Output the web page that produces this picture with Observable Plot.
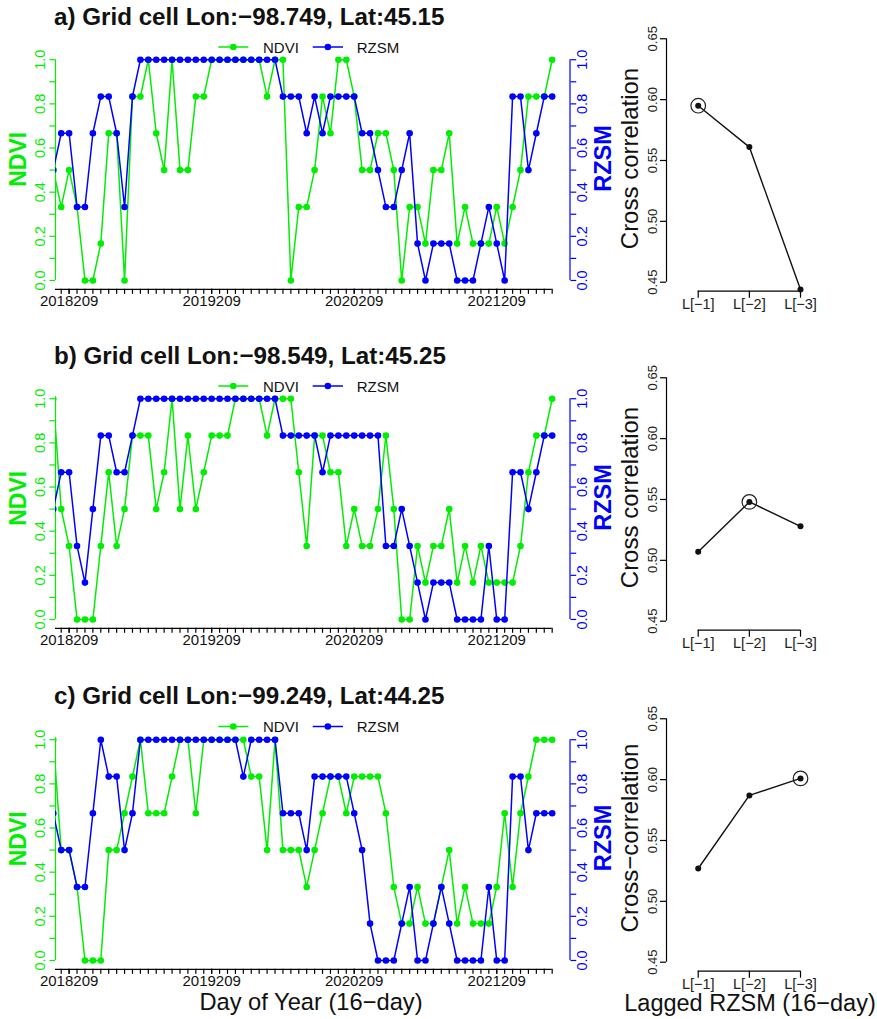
<!DOCTYPE html>
<html><head><meta charset="utf-8">
<script src="https://cdn.jsdelivr.net/npm/d3@7"></script>
<script src="https://cdn.jsdelivr.net/npm/@observablehq/plot@0.6"></script>
<style>
html,body{margin:0;padding:0;background:#fff;}
#wrap{position:relative;width:877px;height:1019px;overflow:hidden;font-family:"Liberation Sans",Arial,Helvetica,sans-serif;}
#wrap > svg{position:absolute;}
</style></head><body><div id="wrap"></div>
<script>
// ---------- data ----------
const xTickLabels = ["2018209", "2019209", "2020209", "2021209"];
const xTickIndex = [2, 20, 38, 56];
const yTicks = [0, 0.1, 0.2, 0.3, 0.4, 0.5, 0.6, 0.7, 0.8, 0.9, 1.0];
const lagLabels = ["L[\u22121]", "L[\u22122]", "L[\u22123]"];
const ccTicks = [0.45, 0.50, 0.55, 0.60, 0.65];

const titles = [
  "a) Grid cell Lon:\u221298.749, Lat:45.15",
  "b) Grid cell Lon:\u221298.549, Lat:45.25",
  "c) Grid cell Lon:\u221299.249, Lat:44.25"
];
const ccLabels = ["Cross correlation", "Cross correlation", "Cross\u2212correlation"];

const ndviA = [0.5,0.333,0.5,0.333,0,0,0.167,0.667,0.667,0,
  0.833,0.833,1,0.667,0.5,1,0.5,0.5,0.833,0.833,
  1,1,1,1,1,1,1,0.833,1,1,
  0,0.333,0.333,0.5,0.833,0.667,1,1,0.833,0.5,
  0.5,0.667,0.667,0.5,0,0.333,0.333,0.167,0.5,0.5,
  0.667,0.167,0.333,0.167,0.167,0.167,0.333,0.167,0.333,0.5,
  0.833,0.833,0.833,1];
const rzsmA = [0.5,0.667,0.667,0.333,0.333,0.667,0.833,0.833,0.667,0.333,
  0.833,1,1,1,1,1,1,1,1,1,
  1,1,1,1,1,1,1,1,1,0.833,
  0.833,0.833,0.667,0.833,0.667,0.833,0.833,0.833,0.833,0.667,
  0.667,0.5,0.333,0.333,0.5,0.667,0.167,0,0.167,0.167,
  0.167,0,0,0,0.167,0.333,0.167,0,0.833,0.833,
  0.5,0.667,0.833,0.833];
const ndviB = [1,0.5,0.333,0,0,0,0.333,0.667,0.333,0.5,
  0.833,0.833,0.833,0.5,0.667,1,0.5,0.833,0.5,0.667,
  0.833,0.833,0.833,1,1,1,1,0.833,1,1,
  1,0.667,0.333,0.833,0.833,0.667,0.667,0.333,0.5,0.333,
  0.333,0.5,0.833,0.5,0,0,0.333,0.167,0.333,0.333,
  0.5,0.167,0.333,0.167,0.333,0.167,0.167,0.167,0.167,0.333,
  0.667,0.833,0.833,1];
const rzsmB = [0.5,0.667,0.667,0.333,0.167,0.5,0.833,0.833,0.667,0.667,
  0.833,1,1,1,1,1,1,1,1,1,
  1,1,1,1,1,1,1,1,1,0.833,
  0.833,0.833,0.833,0.833,0.667,0.833,0.833,0.833,0.833,0.833,
  0.833,0.833,0.333,0.333,0.5,0.333,0.167,0,0.167,0.167,
  0.167,0,0,0,0,0.333,0,0,0.667,0.667,
  0.5,0.667,0.833,0.833];
const ndviC = [1,0.5,0.5,0.333,0,0,0,0.5,0.5,0.667,
  0.833,1,0.667,0.667,0.667,0.833,1,1,0.667,1,
  1,1,1,1,1,0.833,0.833,0.5,1,0.5,
  0.5,0.5,0.333,0.5,0.667,0.833,0.833,0.667,0.833,0.833,
  0.833,0.833,0.667,0.333,0.167,0.167,0.333,0.167,0.167,0.333,
  0.5,0.167,0.333,0.167,0.167,0.167,0.333,0.667,0.333,0.667,
  0.833,1,1,1];
const rzsmC = [0.667,0.5,0.5,0.333,0.333,0.667,1,0.833,0.833,0.5,
  0.667,1,1,1,1,1,1,1,1,1,
  1,1,1,1,0.833,1,1,1,1,0.667,
  0.667,0.667,0.5,0.833,0.833,0.833,0.833,0.833,0.667,0.5,
  0.167,0,0,0,0.167,0.333,0,0,0.167,0.333,
  0.167,0,0,0,0,0.333,0,0,0.833,0.833,
  0.5,0.667,0.667,0.667];

const lags = [1, 2, 3];
const ccA = [0.595, 0.561, 0.444];
const ccB = [0.507, 0.548, 0.528];
const ccC = [0.527, 0.587, 0.601];

// ---------- styling ----------
const GREEN = "#00ee00";
const BLUE = "#0000ff";
const FONT = "'Liberation Sans', Arial, Helvetica, sans-serif";
const rowTops = [0, 339, 679.5];
const rows = [
  {ndvi: ndviA, rzsm: rzsmA, cc: ccA},
  {ndvi: ndviB, rzsm: rzsmB, cc: ccB},
  {ndvi: ndviC, rzsm: rzsmC, cc: ccC}
];

const wrap = document.getElementById("wrap");
const XMIN = 0.28, XMAX = 65.25;

function tsPlot(ndvi, rzsm) {
  const nd = ndvi.map((v, i) => ({i, v}));
  const rz = rzsm.map((v, i) => ({i, v}));
  const n = ndvi.length;
  return Plot.plot({
    width: 620, height: 320,
    marginLeft: 55, marginRight: 50.5, marginTop: 50.4, marginBottom: 31.2,
    x: {domain: [XMIN, XMAX], label: null},
    y: {domain: [-0.04, 1.04], label: null},
    style: {background: "transparent", overflow: "visible", fontFamily: FONT},
    marks: [
      Plot.ruleX([XMIN], {y1: 0, y2: 1, stroke: GREEN, strokeWidth: 1.2}),
      Plot.ruleX([XMAX], {y1: 0, y2: 1, stroke: BLUE, strokeWidth: 1.2}),
      Plot.ruleY([-0.04], {x1: XMIN, x2: n - 1, stroke: "black", strokeWidth: 1.2}),
      Plot.axisY({anchor: "left", label: null, ticks: yTicks, tickSize: 5.5, tickPadding: 5.5, tickRotate: -90,
        tickFormat: d => (Math.round(d * 10) % 2 === 0 ? d.toFixed(1) : ""),
        color: GREEN, fontSize: 14.5, strokeWidth: 1.2}),
      Plot.axisY({anchor: "right", label: null, ticks: yTicks, tickSize: 5.7, tickPadding: 1.4, tickRotate: -90,
        lineAnchor: "top",
        tickFormat: d => (Math.round(d * 10) % 2 === 0 ? d.toFixed(1) : ""),
        color: BLUE, fontSize: 14.5, strokeWidth: 1.2}),
      Plot.axisX({label: null, ticks: d3.range(1, n), tickSize: 5, tickFormat: () => "", strokeWidth: 1.2}),
      Plot.axisX({label: null, ticks: xTickIndex, tickSize: 5, tickPadding: 1,
        tickFormat: d => xTickLabels[xTickIndex.indexOf(d)], fontSize: 15, strokeWidth: 1.2, fill: "#111"}),
      Plot.line(nd, {x: "i", y: "v", stroke: GREEN, strokeWidth: 1.5, clip: true}),
      Plot.dot(nd, {x: "i", y: "v", fill: GREEN, r: 3.3, clip: true}),
      Plot.line(rz, {x: "i", y: "v", stroke: BLUE, strokeWidth: 1.5, clip: true}),
      Plot.dot(rz, {x: "i", y: "v", fill: BLUE, r: 3.3, clip: true})
    ]
  });
}

function ccPlot(cc) {
  const d = lags.map((l, k) => ({l, v: cc[k]}));
  const best = d.filter(p => p.v === d3.max(cc));
  return Plot.plot({
    width: 277, height: 320,
    marginLeft: 66, marginRight: 46.3, marginTop: 26.1, marginBottom: 29.3,
    x: {domain: [0.38, 3.6], label: null},
    y: {domain: [0.4426, 0.66], label: null},
    style: {background: "transparent", overflow: "visible", fontFamily: FONT},
    marks: [
      Plot.ruleX([0.38], {y1: 0.45, y2: 0.65, stroke: "black", strokeWidth: 1.2}),
      Plot.ruleY([0.4426], {x1: 1, x2: 3, stroke: "black", strokeWidth: 1.2}),
      Plot.axisY({label: null, ticks: ccTicks, tickSize: 6, tickPadding: 3.3, tickRotate: -90,
        tickFormat: v => v.toFixed(2), fontSize: 13, strokeWidth: 1.2, fill: "#222"}),
      Plot.axisX({label: null, ticks: lags, tickSize: 7, tickPadding: 1, tickFormat: v => lagLabels[v - 1],
        fontSize: 14.5, strokeWidth: 1.2, fill: "#222"}),
      Plot.line(d, {x: "l", y: "v", stroke: "#111", strokeWidth: 1.4}),
      Plot.dot(d, {x: "l", y: "v", fill: "#111", r: 3}),
      Plot.dot(best, {x: "l", y: "v", stroke: "#222", fill: "none", r: 7.3, strokeWidth: 1.2})
    ]
  });
}

rows.forEach((row, k) => {
  const t = tsPlot(row.ndvi, row.rzsm);
  t.style.left = "0px"; t.style.top = rowTops[k] + "px";
  wrap.appendChild(t);
  const c = ccPlot(row.cc);
  c.style.left = "600px"; c.style.top = rowTops[k] + "px";
  wrap.appendChild(c);
});

// ---------- overlay texts (titles, axis titles, legends) ----------
const ov = d3.select(wrap).append("svg")
  .attr("width", 877).attr("height", 1019)
  .style("left", "0px").style("top", "0px").style("pointer-events", "none")
  .style("font-family", FONT);

rowTops.forEach((top, k) => {
  ov.append("text").attr("x", 54).attr("y", top + 24.5)
    .attr("font-size", 24.2).attr("font-weight", "bold").attr("fill", "#111")
    .text(titles[k]);
  ov.append("text").attr("transform", `translate(18.4,${top + 159.3}) rotate(-90)`)
    .attr("text-anchor", "middle").attr("dominant-baseline", "central")
    .attr("font-size", 23).attr("font-weight", "bold").attr("fill", GREEN).text("NDVI");
  ov.append("text").attr("transform", `translate(603.3,${top + 158.5}) rotate(-90)`)
    .attr("text-anchor", "middle").attr("dominant-baseline", "central")
    .attr("font-size", 23.5).attr("font-weight", "bold").attr("fill", BLUE).text("RZSM");
  ov.append("text").attr("transform", `translate(629,${top + 158.5}) rotate(-90)`)
    .attr("text-anchor", "middle").attr("dominant-baseline", "central")
    .attr("font-size", 24).attr("fill", "#111").text(ccLabels[k]);
  // legend
  const ly = top + 47;
  const items = [{x0: 218.3, x1: 248.3, c: GREEN, t: "NDVI", tx: 263},
                 {x0: 312.7, x1: 343, c: BLUE, t: "RZSM", tx: 356.7}];
  items.forEach(it => {
    ov.append("line").attr("x1", it.x0).attr("x2", it.x1).attr("y1", ly).attr("y2", ly)
      .attr("stroke", it.c).attr("stroke-width", 1.5);
    ov.append("circle").attr("cx", (it.x0 + it.x1) / 2).attr("cy", ly).attr("r", 3.3).attr("fill", it.c);
    ov.append("text").attr("x", it.tx).attr("y", ly).attr("dominant-baseline", "central")
      .attr("font-size", 15).attr("fill", "#111").text(it.t);
  });
});
ov.append("text").attr("x", 311).attr("y", 1010).attr("text-anchor", "middle")
  .attr("font-size", 23.7).attr("fill", "#111").text("Day of Year (16\u2212day)");
ov.append("text").attr("x", 750).attr("y", 1011).attr("text-anchor", "middle")
  .attr("font-size", 23.5).attr("fill", "#111").text("Lagged RZSM (16\u2212day)");
</script></body></html>
